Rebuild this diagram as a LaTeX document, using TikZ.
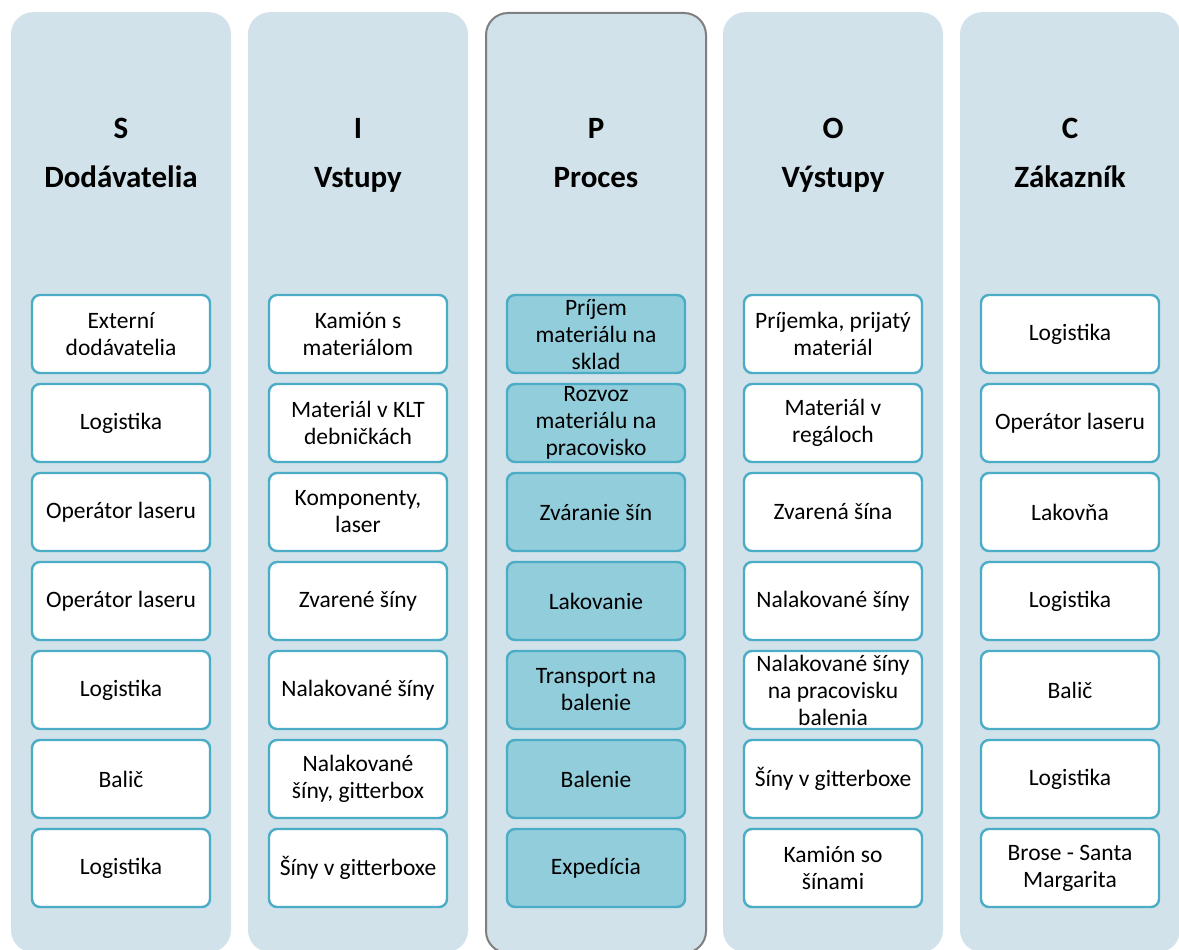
\documentclass[tikz,border=0pt]{standalone}
\usepackage{fontspec}
\setmainfont{Carlito}
\usepackage{tikz}

\definecolor{stlpec}{RGB}{209,226,234}
\definecolor{okraj}{RGB}{75,172,198}
\definecolor{procesfill}{RGB}{146,205,220}
\definecolor{sivy}{RGB}{127,127,127}

\begin{document}
\begin{tikzpicture}[x=1pt,y=-1pt,
		stlpbox/.style={fill=stlpec, rounded corners=22pt, minimum width=220pt, minimum height=940pt, inner sep=0pt, anchor=north},
		nadpis/.style={font=\fontsize{31}{36}\selectfont\bfseries, anchor=base, inner sep=0pt},
		polozka/.style={draw=okraj, line width=2.4pt, fill=white, rounded corners=8pt, minimum width=178pt, minimum height=78pt, inner sep=0pt, align=center, font=\fontsize{23.5}{27}\selectfont},
		krok/.style={polozka, fill=procesfill}]
			\useasboundingbox (0,0) rectangle (1179,950);
			
			\coordinate (stredS) at (121,0);
			\coordinate (stredI) at (358,0);
			\coordinate (stredP) at (596,0);
			\coordinate (stredO) at (833,0);
			\coordinate (stredC) at (1070,0);
			
			% stlpce
			\node[stlpbox] (colS) at (121,12) {};
			\node[stlpbox] (colI) at (358,12) {};
			\node[stlpbox, draw=sivy, line width=2pt] (colP) at (596,12) {};
			\node[stlpbox] (colO) at (833,12) {};
			\node[stlpbox] (colC) at (1070,12) {};
			
			% nadpisy
			\node[nadpis] (hS) at (121,138) {S};
			\node[nadpis] (nS) at (121,187) {Dodávatelia};
			\node[nadpis] (hI) at (358,138) {I};
			\node[nadpis] (nI) at (358,187) {Vstupy};
			\node[nadpis] (hP) at (596,138) {P};
			\node[nadpis] (nP) at (596,187) {Proces};
			\node[nadpis] (hO) at (833,138) {O};
			\node[nadpis] (nO) at (833,187) {Výstupy};
			\node[nadpis] (hC) at (1070,138) {C};
			\node[nadpis] (nC) at (1070,187) {Zákazník};
			
			% polozky
			\foreach \txt [count=\i] in {{Externí\\dodávatelia}, Logistika, Operátor laseru, Operátor laseru, Logistika, Balič, Logistika}
				\node[polozka] (s\i) at (121,{334+89*(\i-1)}) {\txt};
			\foreach \txt [count=\i] in {{Kamión s\\materiálom}, {Materiál v KLT\\debničkách}, {Komponenty,\\laser}, Zvarené šíny, Nalakované šíny, {Nalakované\\šíny, gitterbox}, Šíny v gitterboxe}
				\node[polozka] (i\i) at (358,{334+89*(\i-1)}) {\txt};
			\foreach \txt [count=\i] in {{Príjem\\materiálu na\\sklad}, {Rozvoz\\materiálu na\\pracovisko}, Zváranie šín, Lakovanie, {Transport na\\balenie}, Balenie, Expedícia}
				\node[krok] (p\i) at (596,{334+89*(\i-1)}) {\txt};
			\foreach \txt [count=\i] in {{Príjemka, prijatý\\materiál}, {Materiál v\\regáloch}, Zvarená šína, Nalakované šíny, {Nalakované šíny\\na pracovisku\\balenia}, Šíny v gitterboxe, {Kamión so\\šínami}}
				\node[polozka] (o\i) at (833,{334+89*(\i-1)}) {\txt};
			\foreach \txt [count=\i] in {Logistika, Operátor laseru, Lakovňa, Logistika, Balič, Logistika, {Brose - Santa\\Margarita}}
				\node[polozka] (c\i) at (1070,{334+89*(\i-1)}) {\txt};
		\end{tikzpicture}
\end{document}
